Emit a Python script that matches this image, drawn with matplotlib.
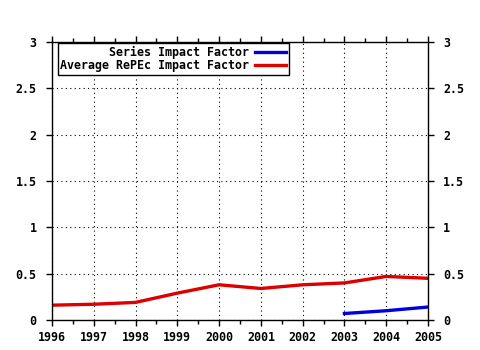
import matplotlib
matplotlib.use("Agg")
import matplotlib.pyplot as plt
from matplotlib.ticker import MultipleLocator, FuncFormatter

years = [1996, 1997, 1998, 1999, 2000, 2001, 2002, 2003, 2004, 2005]
avg_repec = [0.16, 0.17, 0.19, 0.29, 0.38, 0.34, 0.38, 0.40, 0.47, 0.45]
series_years = [2003, 2004, 2005]
series_if = [0.07, 0.10, 0.14]

plt.rcParams['font.family'] = 'DejaVu Sans Mono'
plt.rcParams['font.weight'] = 'bold'
plt.rcParams['font.size'] = 8.4

fig = plt.figure(figsize=(4.8, 3.5), dpi=100)
ax = fig.add_axes([52/480, 30/350, 376/480, 278/350])

ax.plot(series_years, series_if, color='#0000dd', lw=2.4, label='       Series Impact Factor')
ax.plot(years, avg_repec, color='#dd0000', lw=2.4, label='Average RePEc Impact Factor')

ax.set_xlim(1996, 2005)
ax.set_ylim(0, 3)
ax.xaxis.set_major_locator(MultipleLocator(1))
ax.xaxis.set_minor_locator(MultipleLocator(0.5))
ax.yaxis.set_major_locator(MultipleLocator(0.5))
ax.yaxis.set_major_formatter(FuncFormatter(lambda v, p: f"{v:g}"))
ax.tick_params(which='both', direction='out', top=True, right=True, labelright=True,
               length=4, width=1, color='black')
ax.tick_params(axis='x', pad=4)
ax.tick_params(axis='y', pad=7)
ax.tick_params(which='minor', length=3)
ax.grid(True, which='major', color='black', linestyle=(0, (1, 3)), linewidth=0.8)
for s in ax.spines.values():
    s.set_linewidth(1)

leg = ax.legend(loc='upper left', bbox_to_anchor=(0.015, 0.995), markerfirst=False,
                frameon=True, fancybox=False, handlelength=2.7, handletextpad=0.5,
                borderpad=0.2, labelspacing=0.05, borderaxespad=0)
leg.get_frame().set_edgecolor('black')
leg.get_frame().set_linewidth(1)
leg.get_frame().set_alpha(1)

fig.savefig('out.png', dpi=100)
